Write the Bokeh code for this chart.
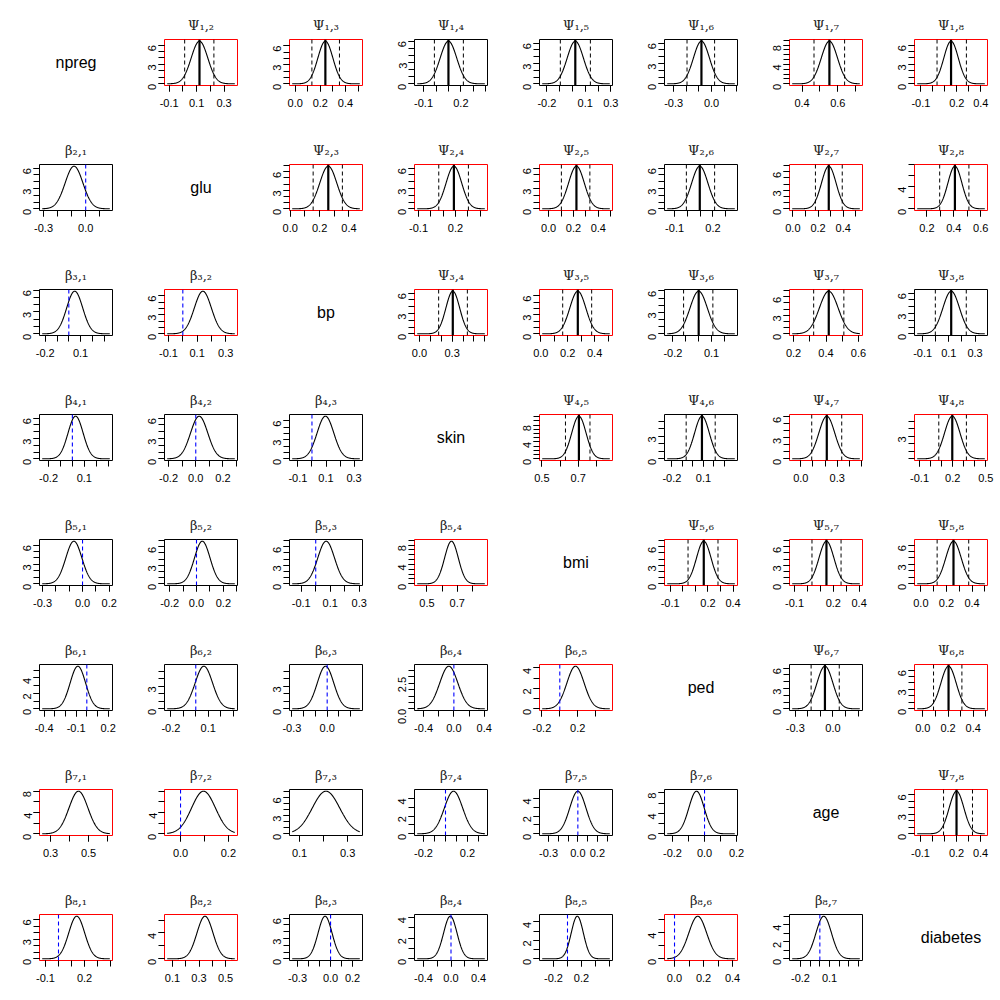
import math
import numpy as np
from bokeh.plotting import figure
from bokeh.models import Range1d, FixedTicker, Span, ColumnDataSource, NumeralTickFormatter
from bokeh.layouts import gridplot
from bokeh.embed import file_html
from bokeh.resources import INLINE
from bokeh.core.properties import value

var_names = ["npreg", "glu", "bp", "skin", "bmi", "ped", "age", "diabetes"]

# panels in row-major order, skipping the diagonal
frame_lo = [
    -0.134, -0.045, -0.173, -0.258, -0.372, 0.330, -0.153,
    -0.329, -0.005, -0.133, -0.073, -0.179, -0.027, 0.108,
    -0.249, -0.128, -0.046, -0.010, -0.265, 0.175, -0.162,
    -0.276, -0.230, -0.160, 0.487, -0.270, -0.093, -0.146,
    -0.323, -0.238, -0.181, 0.418, -0.145, -0.139, -0.050,
    -0.444, -0.251, -0.320, -0.520, -0.226, -0.346, -0.066,
    0.242, -0.067, 0.058, -0.282, -0.393, -0.250, -0.150,
    -0.146, 0.040, -0.373, -0.530, -0.400, -0.069, -0.313]
frame_hi = [
    0.398, 0.535, 0.414, 0.313, 0.205, 0.738, 0.456,
    0.191, 0.492, 0.460, 0.514, 0.392, 0.553, 0.650,
    0.371, 0.382, 0.625, 0.533, 0.301, 0.625, 0.395,
    0.337, 0.307, 0.360, 0.889, 0.424, 0.508, 0.515,
    0.225, 0.305, 0.323, 0.900, 0.435, 0.426, 0.521,
    0.241, 0.335, 0.300, 0.444, 0.587, 0.235, 0.513,
    0.626, 0.238, 0.362, 0.382, 0.355, 0.206, 0.458,
    0.415, 0.590, 0.290, 0.530, 0.643, 0.434, 0.440]
post_mean = [
    0.121, 0.240, 0.100, 0.022, -0.080, 0.553, 0.152,
    -0.083, 0.259, 0.187, 0.224, 0.097, 0.285, 0.408,
    0.050, 0.140, 0.306, 0.275, 0.000, 0.417, 0.118,
    0.027, 0.025, 0.096, 0.704, 0.086, 0.214, 0.196,
    -0.065, 0.043, 0.072, 0.662, 0.167, 0.147, 0.255,
    -0.084, 0.065, -0.014, -0.067, 0.175, -0.064, 0.204,
    0.447, 0.096, 0.210, 0.073, 0.000, -0.050, 0.200,
    0.140, 0.345, -0.050, -0.010, 0.140, 0.160, 0.040]
peak_height = [
    6.6, 6.7, 6.0, 6.3, 6.3, 8.8, 6.6,
    6.3, 6.9, 6.3, 6.3, 6.3, 6.9, 7.7,
    5.85, 6.7, 6.3, 6.7, 5.95, 6.9, 6.3,
    6.3, 6.3, 6.7, 10.1, 5.7, 6.1, 5.7,
    6.6, 6.9, 6.9, 8.8, 6.9, 6.9, 6.6,
    5.5, 5.7, 5.7, 3.34, 4.16, 6.3, 6.6,
    8.0, 8.0, 7.0, 4.8, 4.8, 8.3, 6.5,
    6.5, 6.6, 6.3, 4.1, 4.6, 6.5, 5.0]
# credible interval bounds (upper triangle only)
ci_lo = [
    0.013, 0.133, -0.013, -0.095, -0.194, 0.467, 0.035,
    None, 0.156, 0.064, 0.103, -0.008, 0.179, 0.295,
    None, None, 0.176, 0.1625, -0.117, 0.324, -0.003,
    None, None, None, 0.630, -0.064, 0.090, 0.074,
    None, None, None, None, 0.042, 0.035, 0.127,
    None, None, None, None, None, -0.174, 0.085,
    None, None, None, None, None, None, 0.092,
    None, None, None, None, None, None, None]
ci_hi = [
    0.226, 0.352, 0.220, 0.140, 0.024, 0.638, 0.280,
    None, 0.355, 0.305, 0.332, 0.213, 0.392, 0.512,
    None, None, 0.440, 0.378, 0.110, 0.510, 0.233,
    None, None, None, 0.765, 0.212, 0.337, 0.324,
    None, None, None, None, 0.280, 0.260, 0.374,
    None, None, None, None, None, 0.050, 0.310,
    None, None, None, None, None, None, 0.333,
    None, None, None, None, None, None, None]
red_box = [
    1, 1, 0, 0, 0, 1, 1,
    0, 1, 1, 1, 0, 1, 1,
    0, 1, 1, 1, 0, 1, 0,
    0, 0, 0, 1, 0, 1, 1,
    0, 0, 0, 1, 1, 1, 1,
    0, 0, 0, 0, 1, 0, 1,
    1, 1, 0, 0, 0, 0, 1,
    1, 1, 0, 0, 0, 1, 0]
x_tick_first = [
    -0.1, 0.0, -0.1, -0.2, -0.3, 0.4, -0.1,
    -0.3, 0.0, -0.1, 0.0, -0.1, 0.0, 0.2,
    -0.2, -0.1, 0.0, 0.0, -0.2, 0.2, -0.1,
    -0.2, -0.2, -0.1, 0.5, -0.2, 0.0, -0.1,
    -0.3, -0.2, -0.1, 0.5, -0.1, -0.1, 0.0,
    -0.4, -0.2, -0.3, -0.4, -0.2, -0.3, 0.0,
    0.3, 0.0, 0.1, -0.2, -0.3, -0.2, -0.1,
    -0.1, 0.1, -0.3, -0.4, -0.2, 0.0, -0.2]
x_tick_last = [
    0.3, 0.5, 0.4, 0.3, 0.2, 0.7, 0.4,
    0.1, 0.4, 0.4, 0.5, 0.3, 0.5, 0.6,
    0.3, 0.3, 0.6, 0.5, 0.2, 0.6, 0.3,
    0.3, 0.3, 0.3, 0.8, 0.3, 0.5, 0.5,
    0.2, 0.3, 0.3, 0.8, 0.4, 0.4, 0.5,
    0.2, 0.3, 0.2, 0.4, 0.4, 0.2, 0.5,
    0.6, 0.2, 0.3, 0.3, 0.3, 0.2, 0.4,
    0.4, 0.5, 0.2, 0.4, 0.6, 0.4, 0.4]
x_tick_step = [
    0.1, 0.1, 0.1, 0.1, 0.1, 0.1, 0.1,
    0.1, 0.1, 0.1, 0.1, 0.1, 0.1, 0.1,
    0.1, 0.1, 0.1, 0.1, 0.1, 0.1, 0.1,
    0.1, 0.1, 0.1, 0.1, 0.1, 0.1, 0.1,
    0.1, 0.1, 0.1, 0.1, 0.1, 0.1, 0.1,
    0.1, 0.1, 0.1, 0.2, 0.2, 0.1, 0.1,
    0.1, 0.1, 0.1, 0.1, 0.1, 0.1, 0.1,
    0.1, 0.1, 0.1, 0.2, 0.2, 0.1, 0.1]
x_tick_labels = [
    ["-0.1", "0.1", "0.3"], ["0.0", "0.2", "0.4"], ["-0.1", "0.2"], ["-0.2", "0.1", "0.3"],
    ["-0.3", "0.0"], ["0.4", "0.6"], ["-0.1", "0.2", "0.4"],
    ["-0.3", "0.0"], ["0.0", "0.2", "0.4"], ["-0.1", "0.2"], ["0.0", "0.2", "0.4"],
    ["-0.1", "0.2"], ["0.0", "0.2", "0.4"], ["0.2", "0.4", "0.6"],
    ["-0.2", "0.1"], ["-0.1", "0.1", "0.3"], ["0.0", "0.3"], ["0.0", "0.2", "0.4"],
    ["-0.2", "0.1"], ["0.2", "0.4", "0.6"], ["-0.1", "0.1", "0.3"],
    ["-0.2", "0.1"], ["-0.2", "0.0", "0.2"], ["-0.1", "0.1", "0.3"], ["0.5", "0.7"],
    ["-0.2", "0.1"], ["0.0", "0.3"], ["-0.1", "0.2", "0.5"],
    ["-0.3", "0.0", "0.2"], ["-0.2", "0.0", "0.2"], ["-0.1", "0.1", "0.3"], ["0.5", "0.7"],
    ["-0.1", "0.2", "0.4"], ["-0.1", "0.2", "0.4"], ["0.0", "0.2", "0.4"],
    ["-0.4", "-0.1", "0.2"], ["-0.2", "0.1"], ["-0.3", "0.0"], ["-0.4", "0.0", "0.4"],
    ["-0.2", "0.2"], ["-0.3", "0.0"], ["0.0", "0.2", "0.4"],
    ["0.3", "0.5"], ["0.0", "0.2"], ["0.1", "0.3"], ["-0.2", "0.2"],
    ["-0.3", "0.0", "0.2"], ["-0.2", "0.0", "0.2"], ["-0.1", "0.2", "0.4"],
    ["-0.1", "0.2"], ["0.1", "0.3", "0.5"], ["-0.3", "0.0", "0.2"], ["-0.4", "0.0", "0.4"],
    ["-0.2", "0.2"], ["0.0", "0.2", "0.4"], ["-0.2", "0.1"]]
y_tick_step = [
    1, 1, 1, 1, 1, 1, 1,
    1, 1, 1, 1, 1, 1, 2,
    1, 1, 1, 1, 1, 1, 1,
    1, 1, 1, 1, 1, 1, 1,
    1, 1, 1, 1, 1, 1, 1,
    1, 1, 1, 0.5, 1, 1, 1,
    2, 2, 1, 1, 1, 2, 1,
    1, 2, 1, 1, 1, 2, 1]
y_tick_labels = [
    ["0", "3", "6"], ["0", "3", "6"], ["0", "3", "6"], ["0", "3", "6"], ["0", "3", "6"], ["0", "4", "8"], ["0", "3", "6"],
    ["0", "3", "6"], ["0", "3", "6"], ["0", "3", "6"], ["0", "3", "6"], ["0", "3", "6"], ["0", "3", "6"], ["0", "4"],
    ["0", "3", "6"], ["0", "3", "6"], ["0", "3", "6"], ["0", "3", "6"], ["0", "3", "6"], ["0", "3", "6"], ["0", "3", "6"],
    ["0", "3", "6"], ["0", "3", "6"], ["0", "3", "6"], ["0", "4", "8"], ["0", "3"], ["0", "3", "6"], ["3"],
    ["0", "3", "6"], ["0", "3", "6"], ["0", "3", "6"], ["0", "4", "8"], ["0", "3", "6"], ["0", "3", "6"], ["0", "3", "6"],
    ["0", "2", "4"], ["0", "3"], ["0", "3"], ["0.0", "2.5"], ["0", "2", "4"], ["0", "3", "6"], ["0", "3", "6"],
    ["0", "4", "8"], ["0", "4"], ["0", "3", "6"], ["0", "2", "4"], ["0", "2", "4"], ["0", "4", "8"], ["0", "3", "6"],
    ["0", "3", "6"], ["0", "4"], ["0", "3", "6"], ["0", "2", "4"], ["0", "2", "4"], ["0", "4"], ["0", "2", "4"]]

SUB = str.maketrans("0123456789", "\u2080\u2081\u2082\u2083\u2084\u2085\u2086\u2087\u2088\u2089")
FONT = "Liberation Sans"


def base_fig():
    p = figure(width=125, height=125, output_backend="svg", toolbar_location=None,
               min_border_left=39, min_border_right=13, min_border_top=39, min_border_bottom=40,
               tools="")
    p.grid.visible = False
    p.background_fill_color = "white"
    p.border_fill_color = "white"
    return p


def diag_fig(name):
    p = base_fig()
    p.x_range = Range1d(0, 1)
    p.y_range = Range1d(0, 1)
    p.axis.visible = False
    p.outline_line_color = None
    src = ColumnDataSource(dict(x=[0.5], y=[0.5], t=[name]))
    p.text("x", "y", text="t", source=src, text_align="center", text_baseline="middle",
           text_font=value(FONT), text_font_size="16px", text_color="black")
    return p


def panel_fig(k, i, j):
    lo, hi = frame_lo[k], frame_hi[k]
    P = peak_height[k]
    m = post_mean[k]
    p = base_fig()
    p.x_range = Range1d(lo, hi)
    p.y_range = Range1d(-0.04 * P, 1.04 * P)
    sym = "\u03a8" if j > i else "\u03b2"
    p.title.text = sym + f"{i},{j}".translate(SUB)
    p.title.align = "center"
    p.title.text_font = "DejaVu Serif"
    p.title.text_font_style = "normal"
    p.title.text_font_size = "13px"
    p.title.text_color = "#222222"
    p.title.standoff = 13
    p.outline_line_color = "red" if red_box[k] else "black"
    p.outline_line_width = 1
    p.outline_line_alpha = 1.0

    # density curve (curve extent is the axis range without R's 4% padding)
    w = (hi - lo) / 1.08
    a = lo + 0.04 * w
    b = hi - 0.04 * w
    sd = 1.0 / (P * math.sqrt(2 * math.pi))
    xs = np.linspace(a, b, 240)
    ys = P * np.exp(-0.5 * ((xs - m) / sd) ** 2)
    p.line(xs, ys, line_color="black", line_width=1.1)

    if j > i:
        p.add_layout(Span(location=ci_lo[k], dimension="height", line_color="black",
                          line_width=1, line_dash="4 3"))
        p.add_layout(Span(location=ci_hi[k], dimension="height", line_color="black",
                          line_width=1, line_dash="4 3"))
        p.add_layout(Span(location=m, dimension="height", line_color="black", line_width=2.2))
    else:
        if lo < 0 < hi:
            p.add_layout(Span(location=0, dimension="height", line_color="blue",
                              line_width=1.1, line_dash="4 3"))

    step = x_tick_step[k]
    n = int(round((x_tick_last[k] - x_tick_first[k]) / step))
    all_x = [round(x_tick_first[k] + s * step, 4) for s in range(n + 1)]
    lab_x = [float(t) for t in x_tick_labels[k]]
    ystep = y_tick_step[k]
    ny = int(math.floor(1.04 * P / ystep))
    all_y = [round(s * ystep, 4) for s in range(ny + 1)]
    lab_y = [float(t) for t in y_tick_labels[k]]

    for ax in (p.xaxis[0], p.yaxis[0]):
        ax.axis_line_color = None
        ax.major_tick_in = 0
        ax.major_tick_out = 6
        ax.minor_tick_in = 0
        ax.minor_tick_out = 6
        ax.major_tick_line_color = "black"
        ax.minor_tick_line_color = "black"
        ax.major_label_text_font = FONT
        ax.major_label_text_font_size = "11px"
        ax.major_label_text_color = "black"
        ax.major_label_standoff = 7
    p.xaxis[0].ticker = FixedTicker(ticks=lab_x, minor_ticks=all_x)
    p.xaxis[0].formatter = NumeralTickFormatter(format="0.0")
    p.yaxis[0].ticker = FixedTicker(ticks=lab_y, minor_ticks=all_y)
    p.yaxis[0].formatter = NumeralTickFormatter(format="0.0" if ystep < 1 else "0")
    p.yaxis[0].major_label_orientation = math.pi / 2
    p.yaxis[0].major_label_standoff = 6
    return p


rows = []
k = 0
for i in range(1, 9):
    r = []
    for j in range(1, 9):
        if i == j:
            r.append(diag_fig(var_names[i - 1]))
        else:
            r.append(panel_fig(k, i, j))
            k += 1
    rows.append(r)

grid = gridplot(rows, toolbar_location=None)
open("out.html", "w").write(file_html(grid, INLINE))
